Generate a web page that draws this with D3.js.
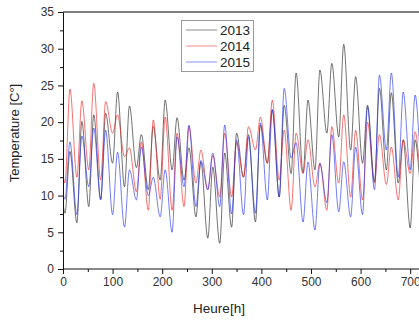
<!DOCTYPE html>
<html>
<head>
<meta charset="utf-8">
<script src="https://cdn.jsdelivr.net/npm/d3@7"></script>
<style>
  html, body { margin: 0; padding: 0; background: #fff; }
  svg { display: block; font-family: "Liberation Sans", Arial, sans-serif; }
</style>
</head>
<body>
<div id="chart"></div>
<script>
// Hours of each daily minimum / maximum (start, then trough, peak per day)
const extremaHours = [0,
  4, 14, 28, 38, 52, 62, 76, 86, 100, 110, 124, 134, 148, 158, 172, 182,
  196, 206, 220, 230, 244, 254, 268, 278, 292, 302, 316, 326, 340, 350,
  364, 374, 388, 398, 412, 422, 436, 446, 460, 470, 484, 494, 508, 518,
  532, 542, 556, 566, 580, 590, 604, 614, 628, 638, 652, 662, 676, 686,
  700, 710, 724, 734];

const temps2013 = [9,
  7.6, 16, 6.3, 20.1, 8.5, 21.0, 9.5, 21.2, 14.4, 24.1, 11.2, 22.2, 13.8, 18.3,
  10.8, 19.4, 12.1, 23.0, 13.5, 20.6, 12.1, 16.5, 7.1, 14.6, 4.2, 13.9, 3.5, 15.8,
  5.7, 18.5, 12.5, 18.3, 6.4, 19.6, 14.4, 21.7, 9.8, 22.3, 13.0, 26.7, 13.1, 23.0,
  13.5, 27.1, 18.5, 28.0, 18.0, 30.6, 16.2, 26.2, 14.4, 22.3, 11.9, 24.6, 13.5, 24.0,
  11.7, 17.6, 5.6, 17.6, 10, 18];

const temps2014 = [13,
  11.7, 24.5, 12.5, 22.9, 13.5, 25.3, 12.1, 22.8, 18.5, 21.0, 15.3, 16.5, 10.5, 17.3,
  8.0, 20.3, 9.5, 20.7, 8.0, 18.5, 8.5, 19.4, 11.7, 16.2, 10.8, 15.5, 9.8, 18.5,
  9.8, 17.2, 12.5, 19.4, 16.2, 20.7, 14.4, 23.0, 12.1, 18.9, 8.0, 18.5, 13.0, 17.6,
  11.2, 14.4, 8.0, 19.4, 11.7, 21.0, 9.8, 18.9, 9.4, 20.0, 11.7, 18.3, 11.5, 16.6,
  9.4, 17.6, 13.0, 18.7, 12, 17];

const temps2015 = [10.3,
  9.5, 17.3, 7.4, 18.1, 11.2, 19.2, 9.4, 18.9, 7.4, 15.9, 5.7, 13.5, 9.4, 16.6,
  10.0, 12.5, 7.1, 13.5, 5.0, 18.0, 11.2, 19.6, 8.5, 14.8, 10.8, 15.8, 8.5, 19.6,
  7.5, 17.6, 7.4, 18.0, 7.6, 19.9, 9.4, 21.7, 9.8, 24.6, 15.1, 17.2, 6.4, 14.6,
  5.3, 14.4, 9.0, 18.3, 7.8, 14.6, 7.1, 16.6, 7.4, 22.1, 10.8, 26.4, 16.2, 26.7,
  12.5, 24.1, 13.5, 23.7, 14, 22];

const seriesNames = ['2013', '2014', '2015'];
const seriesColors = ['#222222', '#ee2222', '#2233ee'];
const xTicks = [0, 100, 200, 300, 400, 500, 600, 700];
const yTicks = [0, 5, 10, 15, 20, 25, 30, 35];

(function() {
  const width = 419, height = 321;
  const left = 63, right = 432, top = 12, bottom = 269;

  const svg = d3.select('#chart').append('svg')
    .attr('width', width)
    .attr('height', height);

  const x = d3.scaleLinear().domain([0, 744]).range([left, right]);
  const y = d3.scaleLinear().domain([0, 35]).range([bottom, top]);

  svg.append('defs').append('clipPath').attr('id', 'plot-clip')
    .append('rect')
      .attr('x', left).attr('y', top)
      .attr('width', right - left).attr('height', bottom - top);

  // series lines
  const line = d3.line()
    .x(function(d) { return x(d[0]); })
    .y(function(d) { return y(d[1]); })
    .curve(d3.curveMonotoneX);

  const allSeries = [temps2013, temps2014, temps2015];
  const plot = svg.append('g').attr('clip-path', 'url(#plot-clip)');
  allSeries.forEach(function(vals, i) {
    const pts = vals.map(function(v, j) { return [extremaHours[j], v]; });
    plot.append('path')
      .datum(pts)
      .attr('fill', 'none')
      .attr('stroke', seriesColors[i])
      .attr('stroke-width', 0.75)
      .attr('stroke-opacity', 0.85)
      .attr('d', line);
  });

  // top frame line
  svg.append('line')
    .attr('x1', left).attr('x2', right)
    .attr('y1', top).attr('y2', top)
    .attr('stroke', '#555').attr('stroke-width', 1.5);

  // x axis, minor ticks first
  svg.append('g')
    .attr('transform', 'translate(0,' + bottom + ')')
    .call(d3.axisBottom(x).tickValues(d3.range(50, 750, 100)).tickSize(3).tickFormat(''))
    .select('.domain').remove();

  const xAxis = svg.append('g')
    .attr('transform', 'translate(0,' + bottom + ')')
    .call(d3.axisBottom(x).tickValues(xTicks).tickSize(5).tickPadding(3).tickSizeOuter(0));
  xAxis.select('.domain').attr('d', 'M' + left + ',0H' + right);

  // y axis
  svg.append('g')
    .attr('transform', 'translate(' + left + ',0)')
    .call(d3.axisLeft(y).tickValues(d3.range(2.5, 35, 5)).tickSize(3).tickFormat(''))
    .select('.domain').remove();

  const yAxis = svg.append('g')
    .attr('transform', 'translate(' + left + ',0)')
    .call(d3.axisLeft(y).tickValues(yTicks).tickSize(5).tickPadding(4).tickSizeOuter(0));

  svg.selectAll('.domain, .tick line').attr('stroke', '#111').attr('stroke-width', 1);
  svg.selectAll('.tick text')
    .attr('fill', '#333')
    .style('font-size', '12px');

  // axis titles
  svg.append('text')
    .attr('transform', 'translate(19,133) rotate(-90)')
    .attr('text-anchor', 'middle')
    .attr('fill', '#222')
    .style('font-size', '13px')
    .text('Temperature [C°]');

  svg.append('text')
    .attr('x', 219).attr('y', 313)
    .attr('text-anchor', 'middle')
    .attr('fill', '#222')
    .style('font-size', '13.5px')
    .text('Heure[h]');

  // legend
  const legend = svg.append('g');
  legend.append('rect')
    .attr('x', 181.5).attr('y', 20.5)
    .attr('width', 72).attr('height', 51)
    .attr('fill', '#fff')
    .attr('stroke', '#999');

  seriesNames.forEach(function(name, i) {
    const ly = 30 + i * 16;
    legend.append('line')
      .attr('x1', 186).attr('x2', 217)
      .attr('y1', ly).attr('y2', ly)
      .attr('stroke', seriesColors[i])
      .attr('stroke-width', 0.75)
      .attr('stroke-opacity', 0.7);
    legend.append('text')
      .attr('x', 220).attr('y', ly)
      .attr('dy', '0.36em')
      .attr('fill', '#222')
      .style('font-size', '13.5px')
      .text(name);
  });
})();
</script>
</body>
</html>
